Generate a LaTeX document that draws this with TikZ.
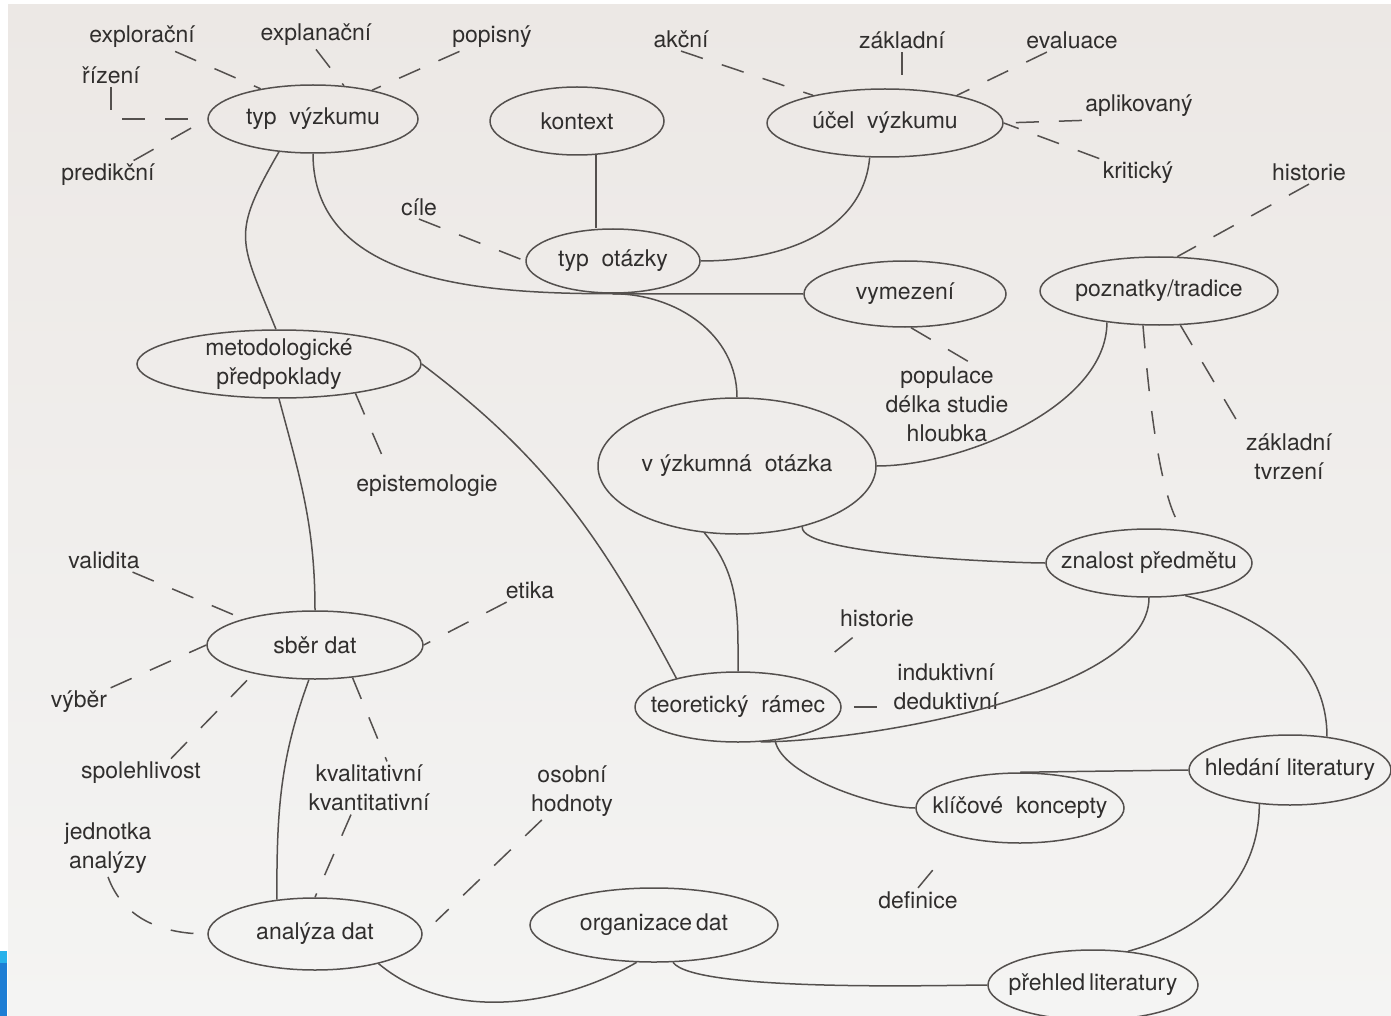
\documentclass[tikz,border=0pt]{standalone}
\usepackage{fontspec}
\setmainfont{TeX Gyre Heros}
\usetikzlibrary{shapes,positioning}
\definecolor{lnc}{RGB}{84,80,78}
\definecolor{txc}{RGB}{48,46,45}
\definecolor{papertop}{RGB}{236,232,229}
\definecolor{paperbot}{RGB}{244,244,243}
\definecolor{barblue}{RGB}{30,126,212}
\definecolor{barcyan}{RGB}{40,178,235}

\begin{document}
\begin{tikzpicture}[x=1pt,y=1pt,
  font=\fontsize{23}{29}\selectfont,
  bub/.style 2 args={ellipse,draw=lnc,line width=1.5pt,inner xsep=-30pt,inner ysep=-5pt,
    minimum width=#1pt,minimum height=#2pt,text=txc,align=center},
  lbl/.style={text=txc,align=center},
  link/.style={draw=lnc,line width=1.5pt},
  dlink/.style={draw=lnc,line width=1.5pt,dash pattern=on 23pt off 20pt}]
\useasboundingbox (0,0) rectangle (1391,-1016);
\fill[white] (0,0) rectangle (1391,-1016);
\shade[top color=papertop,bottom color=paperbot] (8,-5) rectangle (1391,-1016);
\fill[barblue] (0,-951) rectangle (7,-1016);
\fill[barcyan] (0,-951) rectangle (7,-963);

% bubbles
\node[bub={210}{68}] (tv) at (313,-119) {typ\ \ výzkumu};
\node[bub={174}{68}] (kx) at (577,-121) {kontext};
\node[bub={236}{68}] (uv) at (885,-123) {účel\ \ výzkumu};
\node[bub={174}{64}] (tot) at (613,-261) {typ\ \ otázky};
\node[bub={202}{66}] (vym) at (905,-294) {vymezení};
\node[bub={238}{68}] (pzt) at (1159,-291) {poznatky/tradice};
\node[bub={284}{68}] (mp) at (279,-364) {metodologické\\předpoklady};
\node[bub={278}{136}] (vo) at (737,-466) {v\kern7pt ýzkumná\ \ otázka};
\node[bub={206}{68}] (zp) at (1149,-563) {znalost předmětu};
\node[bub={216}{68}] (sd) at (315,-645) {sběr dat};
\node[bub={206}{70}] (tr) at (738,-707) {teoretický\ \ rámec};
\node[bub={208}{70}] (kk) at (1020,-808) {klíčové\ \ koncepty};
\node[bub={202}{70}] (hl) at (1290,-770) {hledání literatury};
\node[bub={214}{72}] (ad) at (315,-934) {analýza dat};
\node[bub={248}{74}] (od) at (654,-925) {organizace\,dat};
\node[bub={210}{70}] (pl) at (1093,-985) {přehled\,literatury};

% labels
\node[lbl] (explor) at (142,-37) {explorační};
\node[lbl] (explan) at (316,-35) {explanační};
\node[lbl] (popis) at (492,-37) {popisný};
\node[lbl] (rizeni) at (111,-75) {řízení};
\node[lbl] (predik) at (108,-175) {predikční};
\node[lbl] (cile) at (419,-207) {cíle};
\node[lbl] (akcni) at (681,-39) {akční};
\node[lbl] (zakl) at (902,-40) {základní};
\node[lbl] (eval) at (1072,-40) {evaluace};
\node[lbl] (aplik) at (1139,-106) {aplikovaný};
\node[lbl] (krit) at (1138,-173) {kritický};
\node[lbl] (histA) at (1309,-172) {historie};
\node[lbl] (popul) at (947,-404) {populace\\délka studie\\hloubka};
\node[lbl] (zakltv) at (1289,-457) {základní\\tvrzení};
\node[lbl] (epist) at (427,-486) {epistemologie};
\node[lbl] (valid) at (104,-560) {validita};
\node[lbl] (etika) at (530,-590) {etika};
\node[lbl] (vyber) at (79,-702) {výběr};
\node[lbl] (spol) at (141,-773) {spolehlivost};
\node[lbl] (jedn) at (108,-848) {jednotka\\analýzy};
\node[lbl] (kval) at (369,-788) {kvalitativní\\kvantitativní};
\node[lbl] (osob) at (572,-791) {osobní\\hodnoty};
\node[lbl] (histB) at (877,-618) {historie};
\node[lbl] (indukt) at (946,-687) {induktivní\\deduktivní};
\node[lbl] (defin) at (918,-900) {definice};

% solid links
\draw[link] (tv.-136) to[out=-120,in=112,looseness=1.4] (mp.95);
\draw[link] (tv.south) to[out=-90,in=180] (tot.south) -- (vym.west);
\draw[link] (tot.south) to[out=0,in=90] (vo.north);
\draw[link] (kx.-61) -- (kx.-61 |- tot.north);
\draw[link] (uv.-114) to[out=-95,in=0] (tot.east);
\draw[link] (vo.east) to[out=0,in=-90,looseness=.8] (pzt.-149);
\draw[link] (vo.-43) to[out=-95,in=180,looseness=.3] (zp.west);
\draw[link] (vo.-116) to[out=-50,in=90] (tr.north);
\draw[link] (mp.east) to[out=-37,in=118] (tr.155);
\draw[link] (mp.south) to[out=-75,in=90] (sd.north);
\draw[link] (sd.-100) to[out=-110,in=90] (ad.138);
\draw[link] (ad.-25) to[out=-40,in=-150,looseness=.9] (od.-115);
\draw[link] (od.-63) to[out=-55,in=180,looseness=.3] (pl.west);
\draw[link] (pl.44) to[out=15,in=-90] (hl.-132);
\draw[link] (hl.west) -- (kk.north);
\draw[link] (hl.42) to[out=90,in=-15] (zp.-42);
\draw[link] (zp.south) to[out=-90,in=0,looseness=.6] (tr.-57);
\draw[link] (tr.-42) to[out=-80,in=180,looseness=.6] (kk.west);

% dashed links
\draw[dlink] (explor) -- (tv.150);
\draw[dlink] (explan.south) -- (tv.47);
\draw[dlink] (popis) -- (tv.26);
\draw[dlink] (rizeni.south) |- (tv.west);
\draw[dlink] (predik) -- (tv.west);
\draw[dlink] (cile.south) -- (tot.west);
\draw[dlink] (akcni.south) -- (uv.159);
\draw[dlink] (zakl.south) -- (zakl.south |- uv.north);
\draw[dlink] (eval) -- (uv.21);
\draw[dlink] (aplik.south west) -- (uv.east);
\draw[dlink] (krit.north west) -- (uv.east);
\draw[dlink] (histA.south) -- (pzt.62);
\draw[dlink] (vym.-80) -- (popul.60);
\draw[dlink] (pzt.-58) -- (zakltv.north west);
\draw[dlink] (pzt.-115) to[out=-85,in=130,looseness=.5] (zp.44);
\draw[dlink] (mp.-21) -- ([xshift=-38pt]epist.north);
\draw[dlink] (valid) -- (sd.160);
\draw[dlink] (vyber) -- (sd.west);
\draw[dlink] ([xshift=30pt]spol.north) -- (sd.-155);
\draw[dlink] (etika) -- (sd.east);
\draw[dlink] (sd.-41) -- ([xshift=18pt]kval.north);
\draw[dlink] ([xshift=-18pt]kval.south) -- (ad.north);
\draw[dlink,shorten >=18pt] (osob) -- (ad.east);
\draw[dlink] (jedn.south) to[out=-70,in=180] (ad.west);
\draw[dlink,shorten <=12pt,shorten >=30pt] (histB) -- (tr.24);
\draw[dlink,shorten <=12pt,shorten >=12pt] (tr.east) -- (tr.east -| indukt.west);
\draw[dlink,shorten >=30pt] (defin.north) -- (kk.-154);
\end{tikzpicture}
\end{document}
